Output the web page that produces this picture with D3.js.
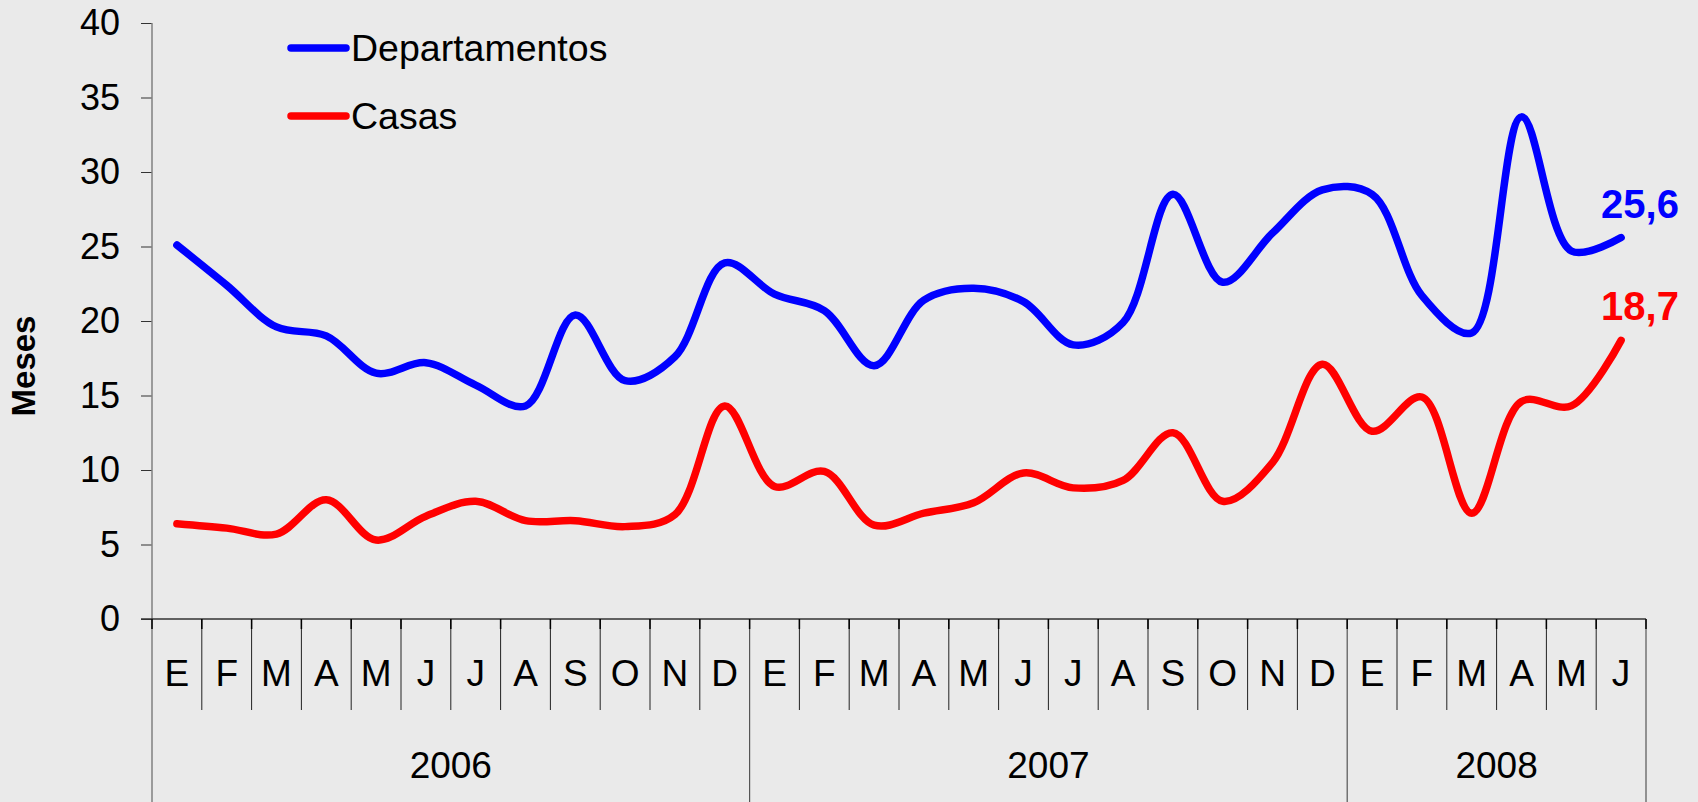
<!DOCTYPE html>
<html>
<head>
<meta charset="utf-8">
<title>Meses de venta</title>
<script src="https://d3js.org/d3.v7.min.js"></script>
<style>
    html, body {
        margin: 0;
        padding: 0;
        background-color: #EAEAEA;
    }
    svg {
        display: block;
        font-family: "Liberation Sans", Arial, sans-serif;
    }
</style>
</head>
<body>
<svg id="chart"></svg>
<script>
    // data
    const months = ["E", "F", "M", "A", "M", "J", "J", "A", "S", "O", "N", "D",
                    "E", "F", "M", "A", "M", "J", "J", "A", "S", "O", "N", "D",
                    "E", "F", "M", "A", "M", "J"];
    const years = ["2006", "2007", "2008"];
    const yearCounts = [12, 12, 6];
    const departamentos = [25.1, 22.4, 19.6, 19.0, 16.5, 17.2, 15.7, 14.3, 20.4, 16.0, 17.6, 23.9,
                           21.8, 20.7, 17.0, 21.4, 22.2, 21.3, 18.4, 19.9, 28.5, 22.6, 25.9, 28.8,
                           28.5, 21.7, 19.2, 33.7, 24.7, 25.6];
    const casas = [6.4, 6.1, 5.7, 8.0, 5.3, 6.9, 7.9, 6.6, 6.6, 6.2, 7.0, 14.3,
                   8.9, 9.9, 6.3, 7.1, 7.8, 9.8, 8.8, 9.3, 12.5, 7.9, 10.5, 17.1,
                   12.6, 14.9, 7.1, 14.6, 14.3, 18.7];
    const yTicks = [0, 5, 10, 15, 20, 25, 30, 35, 40];
    const seriesNames = ["Departamentos", "Casas"];
    const endLabels = ["25,6", "18,7"];

    const width = 1698;
    const height = 802;
    const margin = { top: 23, right: 52, bottom: 183, left: 152 };

    const svg = d3.select("#chart")
        .attr("width", width)
        .attr("height", height);

    const x = d3.scaleBand()
        .domain(d3.range(months.length))
        .range([margin.left, width - margin.right])
        .padding(0);

    const y = d3.scaleLinear()
        .domain([0, 40])
        .range([height - margin.bottom, margin.top]);

    const colors = d3.scaleOrdinal()
        .domain(seriesNames)
        .range(["#0000FF", "#FF0000"]);

    const y0 = y(0);
    const step = x.bandwidth();

    // y axis
    const yAxis = svg.append("g")
        .attr("transform", `translate(${margin.left}, 0)`)
        .call(d3.axisLeft(y).tickValues(yTicks).tickSize(11).tickPadding(21).tickSizeOuter(0));
    yAxis.select(".domain").remove();
    yAxis.selectAll(".tick line").attr("stroke", "#333");
    yAxis.selectAll(".tick text")
        .attr("fill", "#000")
        .style("font-size", "36px");

    svg.append("line")
        .attr("x1", margin.left).attr("x2", margin.left)
        .attr("y1", y(40)).attr("y2", height)
        .attr("stroke", "#808080").attr("stroke-width", 1.5);

    // x axis line
    svg.append("line")
        .attr("x1", margin.left - 11).attr("x2", width - margin.right)
        .attr("y1", y0).attr("y2", y0)
        .attr("stroke", "#333").attr("stroke-width", 1.5);

    // month separators
    const yearStarts = [0];
    yearCounts.forEach((c, i) => yearStarts.push(yearStarts[i] + c));
    const monthBounds = d3.range(1, months.length).filter(i => !yearStarts.includes(i));

    svg.selectAll(".month-sep")
        .data(monthBounds)
        .enter()
        .append("line")
        .attr("class", "month-sep")
        .attr("x1", i => x(i)).attr("x2", i => x(i))
        .attr("y1", y0).attr("y2", y0 + 91)
        .attr("stroke", "#222").attr("stroke-width", 1);

    svg.selectAll(".year-sep")
        .data(yearStarts.slice(1))
        .enter()
        .append("line")
        .attr("class", "year-sep")
        .attr("x1", i => i < months.length ? x(i) : x(i - 1) + step)
        .attr("x2", i => i < months.length ? x(i) : x(i - 1) + step)
        .attr("y1", y0).attr("y2", height)
        .attr("stroke", "#555").attr("stroke-width", 1.2);

    svg.selectAll(".tick-mark")
        .data(d3.range(0, months.length + 1))
        .enter()
        .append("line")
        .attr("class", "tick-mark")
        .attr("x1", i => margin.left + i * step).attr("x2", i => margin.left + i * step)
        .attr("y1", y0).attr("y2", y0 + 10)
        .attr("stroke", "#000").attr("stroke-width", 1.5);

    // month labels
    svg.selectAll(".month")
        .data(months)
        .enter()
        .append("text")
        .attr("class", "month")
        .attr("x", (d, i) => x(i) + step / 2)
        .attr("y", y0 + 67)
        .attr("text-anchor", "middle")
        .style("font-size", "37px")
        .text(d => d);

    // year labels
    svg.selectAll(".year")
        .data(years)
        .enter()
        .append("text")
        .attr("class", "year")
        .attr("x", (d, i) => margin.left + (yearStarts[i] + yearCounts[i] / 2) * step)
        .attr("y", y0 + 159)
        .attr("text-anchor", "middle")
        .style("font-size", "37px")
        .text(d => d);

    // y title
    svg.append("text")
        .attr("transform", "translate(35, 366) rotate(-90)")
        .attr("text-anchor", "middle")
        .style("font-size", "33px")
        .style("font-weight", "bold")
        .text("Meses");

    // lines
    const line = d3.line()
        .x((d, i) => x(i) + step / 2)
        .y(d => y(d))
        .curve(d3.curveCatmullRom.alpha(0.5));

    const series = [departamentos, casas];

    svg.selectAll(".series")
        .data(series)
        .enter()
        .append("path")
        .attr("class", "series")
        .attr("fill", "none")
        .attr("stroke", (d, i) => colors(seriesNames[i]))
        .attr("stroke-width", 7.5)
        .attr("stroke-linecap", "round")
        .attr("stroke-linejoin", "round")
        .attr("d", line);

    // end labels
    svg.selectAll(".end-label")
        .data(series)
        .enter()
        .append("text")
        .attr("class", "end-label")
        .attr("x", d => x(d.length - 1) + step / 2 - 20)
        .attr("y", d => y(d[d.length - 1]) - 20)
        .attr("fill", (d, i) => colors(seriesNames[i]))
        .style("font-size", "40px")
        .style("font-weight", "bold")
        .text((d, i) => endLabels[i]);

    // legend
    const legend = svg.selectAll(".legend")
        .data(seriesNames)
        .enter()
        .append("g")
        .attr("class", "legend")
        .attr("transform", (d, i) => `translate(291, ${48 + i * 68})`);

    legend.append("line")
        .attr("x1", 0).attr("x2", 55)
        .attr("y1", 0).attr("y2", 0)
        .attr("stroke", d => colors(d))
        .attr("stroke-width", 7.5)
        .attr("stroke-linecap", "round");

    legend.append("text")
        .attr("x", 60)
        .attr("y", 13)
        .style("font-size", "37.5px")
        .text(d => d);
</script>
</body>
</html>
